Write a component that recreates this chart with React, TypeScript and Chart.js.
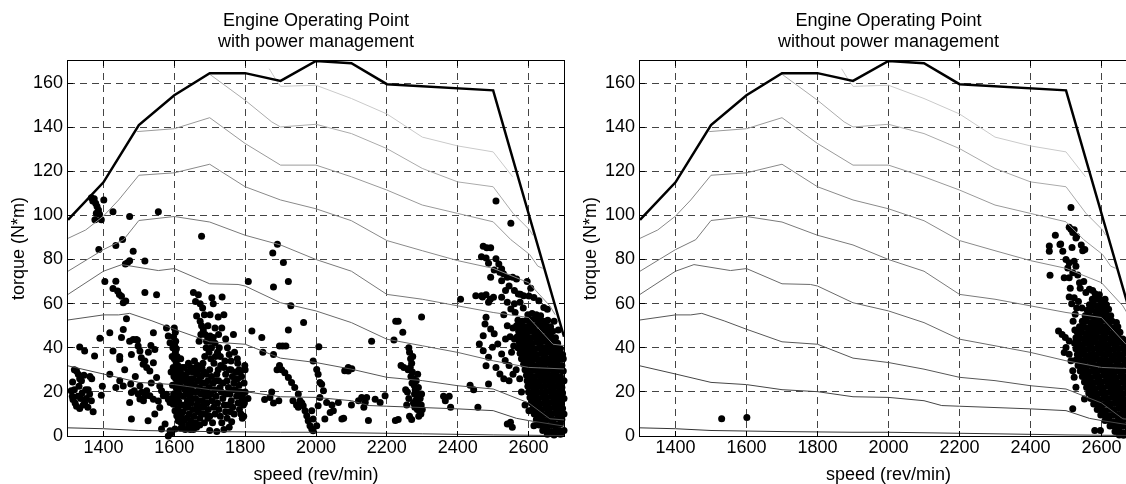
import React, { useEffect, useRef } from "react";
import { Chart, registerables } from "chart.js";

Chart.register(...registerables);

const FONT = "'Liberation Sans', Arial, Helvetica, sans-serif";

const speedTicks = [1400, 1600, 1800, 2000, 2200, 2400, 2600];
const torqueTicks = [0, 20, 40, 60, 80, 100, 120, 140, 160];
const speedRange = [1300, 2700];
const torqueRange = [0, 170];

const titleTop = "Engine Operating Point";
const titleLeft = "with power management";
const titleRight = "without power management";
const xLabel = "speed (rev/min)";
const yLabel = "torque (N*m)";

const maxTorqueSpeed = [1300, 1400, 1500, 1600, 1700, 1800, 1900, 2000, 2100, 2200, 2500, 2700];
const maxTorqueValue = [98, 115, 141, 154.5, 164.5, 164.5, 161, 170, 169, 159.5, 156.7, 45];

const contourASpeed = [1868, 1885, 1900, 2000, 2100, 2200, 2300, 2400, 2500, 2555];
const contourATorque = [166.5, 162, 158.5, 159, 153, 146, 135.5, 131.5, 128.8, 117.5];
const contourBSpeed = [1700, 1800, 1875, 1900, 2000, 2100, 2200, 2300, 2400, 2500, 2556, 2603, 2612];
const contourBTorque = [164, 152.2, 142.4, 140.1, 141.3, 137.1, 130.3, 121.3, 115.2, 113, 101, 93.4, 91];
const contourCSpeed = [1495, 1600, 1700, 1800, 1900, 2000, 2100, 2200, 2300, 2400, 2500, 2550, 2603, 2626, 2640];
const contourCTorque = [138, 139.3, 144.3, 132.6, 122.8, 122.8, 117.5, 111.5, 104.7, 100.9, 97.1, 89, 82.3, 77, 76];
const contourDSpeed = [1300, 1350, 1400, 1443, 1500, 1600, 1700, 1800, 1900, 2000, 2100, 2200, 2300, 2400, 2500, 2600, 2660, 2675];
const contourDTorque = [89.6, 93.4, 99.7, 107, 118.2, 119.3, 123.2, 113, 107, 103, 97.6, 88.6, 84, 79.5, 76, 69.5, 59, 55];
const contourESpeed = [1300, 1400, 1457, 1500, 1600, 1700, 1800, 1900, 2000, 2100, 2200, 2300, 2400, 2500, 2600, 2669, 2700];
const contourETorque = [74.7, 84.5, 89, 97.7, 99.5, 97, 91, 86.6, 80, 74.7, 64.2, 62, 59, 56, 53.7, 41.6, 41];
const contourFSpeed = [1300, 1400, 1452, 1555, 1600, 1700, 1780, 1800, 1900, 2000, 2100, 2200, 2300, 2400, 2500, 2600, 2700];
const contourFTorque = [64.2, 74.7, 77.7, 75, 75.9, 69, 68.7, 68, 60.4, 56.7, 51.4, 43.9, 40.9, 37.9, 34.1, 31.1, 30.4];
const contourGSpeed = [1300, 1400, 1443, 1474, 1537, 1600, 1700, 1800, 1900, 2000, 2100, 2200, 2300, 2400, 2500, 2600, 2660, 2700];
const contourGTorque = [52.6, 54.9, 54.9, 55.6, 52.2, 48.4, 42.7, 41.6, 35.3, 33.3, 30.3, 26.6, 25.1, 22.8, 21.3, 15, 7.8, 7.3];
const contourHSpeed = [1300, 1400, 1500, 1600, 1700, 1800, 1900, 2000, 2100, 2150, 2200, 2400, 2500, 2566, 2600, 2700];
const contourHTorque = [31.8, 28.1, 24.3, 23.3, 21, 20.1, 17.8, 17.5, 16, 13.8, 13.5, 12.3, 11.5, 8, 7, 4.5];
const contourISpeed = [1300, 1400, 1500, 1700, 1900, 2000, 2300, 2500, 2700];
const contourITorque = [3.7, 3.3, 2.5, 2, 1.7, 1.7, 1, 0.5, 0.2];

const contourColors = ["#cacaca", "#ababab", "#9a9a9a", "#8a8a8a", "#7a7a7a", "#6a6a6a", "#575757", "#454545", "#333333"];

const withPmPoints = [
  [1366,108],[1370,106.5],[1374,107.5],[1378,105.5],[1382,104],[1386,102.5],[1389,100.5],[1376,98],[1394,98],[1401,107],[1380,101],
  [1427,101.7],[1474,99.5],[1555,101.7],[1677,90.6],[1387,84.6],[1435,86.4],[1454,89.1],[1484,83.8],[1474,79.5],[1468,78.5],[1462,78],[1517,79.3],
  [1404,70],[1435,70.2],[1427,66.9],[1440,65.7],[1445,64.2],[1451,63.4],[1456,60.4],[1463,61.2],[1517,65],[1550,64],[1465,53.2],[1418,46.8],
  [1390,44.3],[1427,38.5],[1451,44.6],[1456,48.3],[1484,43.8],[1496,43.4],[1503,38.5],[1541,46.8],[1578,49],[1583,45.3],[1588,42.3],[1375,36.3],
  [1333,40.3],[1347,38.5],[1446,34.7],[1479,37],
  [1809,70],[1878,83],[1891,86.9],[1908,78.6],[1922,70],[1880,67.5],[1929,59],[1965,51.4],[1922,48],[1819,47.6],[1847,44.6],[1897,40.8],
  [1906,40.8],[1915,40.8],[1880,37],[1850,38],
  [1309,20.5],[1312,18],[1314,16.5],[1318,21],[1320,15],[1324,13.5],[1328,18],[1331,22.5],[1333,12.5],[1336,17],[1340,19.5],[1343,14],
  [1347,15],[1350,21],[1352,17],[1356,13],[1357,21],[1361,19],[1366,16],[1324,29.5],[1329,28],[1333,26],[1338,25],[1345,27.5],[1362,27],
  [1367,26],[1371,11],[1394,18.5],[1397,22.5],[1313,24.5],[1318,30],
  [1418,28],[1446,36],[1474,43],[1493,43.8],[1498,40.8],[1507,35.5],[1512,32.5],[1517,34],[1522,31],[1531,29.5],[1541,33.2],[1545,39.2],
  [1550,26.5],[1559,22.7],[1564,20.5],[1569,18.2],[1578,18.9],[1583,16.7],[1588,15.2],[1597,14.4],[1602,11.4],[1607,9.2],[1611,6.9],[1574,5.4],
  [1564,3.2],[1526,6.9],[1479,7.7],[1446,25],[1456,22.7],[1474,15.2],[1479,19.7],[1503,22.7],[1522,20.5],[1531,18.2],[1541,16.7],[1555,15.9],
  [1559,12.9],[1545,10],[1588,2.4],[1583,0],[1602,3.2],[1477,23.6],[1487,20.5],[1498,19],[1508,19.8],[1518,18.3],[1503,16.8],[1513,16],
  [1435,22],[1460,30],[1490,27],[1535,24],[1527,38],[1534,41],
  [1600,49],[1603,47],[1598,45],[1604,43],[1601,41],[1606,39.5],[1603,38],[1608,36],[1600,35],[1605,33.5],[1610,32],[1602,30.5],[1607,29],
  [1612,27.5],[1604,26],[1609,24.5],[1614,23],[1606,21.5],[1611,20],[1616,18.5],[1608,17],[1613,15.5],[1618,14],[1610,12.5],[1615,11],
  [1620,9.5],[1612,8],[1617,6.5],[1622,5],[1619,3.5],[1596,40],[1594,36],[1597,31],[1599,27],[1595,23],[1598,19],[1601,15],[1620,26],
  [1623,22],[1626,18],[1629,14],[1625,11],[1628,7],[1631,3],[1591,29],[1593,17],[1616,30],[1618,35],[1622,31],
  [1632,27],[1636,24],[1640,21],[1644,18],[1648,15],[1652,12],[1656,9],[1660,6],[1638,29],[1645,26],[1650,23],[1655,20],[1660,17],[1664,14],
  [1668,11],[1672,8],[1642,10],[1646,7],[1650,5],[1654,3],[1633,13],[1637,16],[1663,28],[1667,25],[1671,22],[1675,19],[1679,16],[1683,13],
  [1687,10],[1670,30],[1676,27],[1680,24],[1684,21],[1688,18],[1692,15],[1696,12],[1700,9],[1690,28],[1695,25],[1699,22],[1703,19],[1707,16],
  [1711,13],[1715,10],[1700,30],[1705,27],[1710,24],[1714,21],[1718,18],[1722,15],[1726,12],[1730,9],[1734,6],[1720,28],[1725,25],[1729,22],
  [1733,20],[1737,17],[1741,14],[1745,11],[1749,8],[1740,31],[1745,28],[1749,25],[1753,22],[1757,19],[1761,16],[1765,13],[1769,10],[1760,30],
  [1764,27],[1768,24],[1772,21],[1776,18],[1780,15],[1784,12],[1788,10],[1792,8],[1796,9],[1774,29],[1779,26],[1783,23],[1787,20],[1791,17],
  [1795,14],[1661,31],[1657,34],[1652,29],[1681,33],[1686,36],[1712,33],[1716,36],[1722,38],[1727,40],[1690,40],[1695,45],[1700,43],
  [1622,28],[1627,25],[1630,21],[1634,19],[1638,13],[1641,24],[1646,21],[1649,17],[1653,26],[1657,23],[1661,12],[1665,20],[1669,16],[1673,27],
  [1676,13],[1680,10],[1684,29],[1688,24],[1692,21],[1696,18],[1629,31],[1640,33],[1647,31],[1658,30],[1666,32],[1678,31],[1635,8],[1640,5],
  [1663,4],[1672,5],[1685,6],[1695,8],[1708,6],[1716,25],[1724,30],[1731,32],[1738,24],[1746,19],[1752,14],[1758,11],[1766,21],[1771,26],
  [1779,33],[1786,29],[1793,19],[1798,15],[1703,35],[1698,38],
  [1654,65],[1668,64],[1660,61],[1673,60],[1706,62.7],[1710,60],[1663,54.4],[1673,52],[1677,50],[1682,48],[1687,46],[1701,45.3],[1710,44.6],
  [1691,43],[1701,55],[1724,54],[1734,49],[1767,46],[1715,49],[1680,58],[1685,55],[1675,46],[1670,43],[1695,50],[1705,40],[1715,42],[1745,44],
  [1750,40],[1755,37],[1760,34],[1770,38],[1778,35],[1783,30],[1790,27],[1797,24],[1800,20],[1799,32],[1735,63],[1740,55],[1725,46],[1730,36],
  [1755,30],[1743,34],[1645,3],[1700,2.5],[1720,2],[1740,3],[1755,4],[1762,6.5],[1590,1],
  [1808,17],[1855,16.5],[1870,17.5],[1875,20],[1880,15],[1895,16],[1890,30],[1897,32],[1903,30],[1912,28.7],[1922,26.5],[1931,24.2],[1940,22],
  [1950,19],[1955,16],[1964,13.7],[1969,11.4],[1974,9.2],[1978,6.9],[1983,4.7],[1988,3.2],[1992,2.4],[1988,11.4],[1992,7.7],[2002,4.7],
  [2006,13.7],[2011,17.4],[2016,23.5],[2021,20.5],[2030,15.2],[2040,10.7],[2025,7.7],[2049,11.4],[1992,34],[2002,30.2],[2006,28],[2011,24.2],
  [1945,14],[1950,13],[1960,15],[1935,16],[1800,30],[1780,20],[2008,40.5],[2081,29.6],[2091,31],
  [2063,15.2],[2091,29.5],[2101,30.5],[2073,7.7],[2078,8],[2120,16],[2129,17.4],[2139,15.2],[2143,17.4],[2148,7],[2167,16.7],[2181,15.2],
  [2195,18.2],[2224,7],[2157,43],[2220,43.5],[2225,52],[2232,52],[2245,47],[2240,32],[2248,31],[2253,21],[2232,7.5],[2135,13],[2100,14],[2045,14],
  [2262,40],[2264,38],[2267,35],[2270,33],[2266,31],[2272,29],[2268,27],[2275,26],[2271,24],[2277,23],[2280,21],[2283,20],[2278,19],[2285,18],
  [2281,16],[2288,15],[2291,13],[2286,12],[2293,11],[2296,10],[2275,15],[2279,13],[2260,30],[2258,20],[2264,9],[2270,7.5],[2289,22],[2294,17],
  [2297,14],[2300,12],[2298,19],[2283,25],[2262,17],[2256,14],[2298,54],[2290,9],[2287,28],[2273,36],
  [2360,18],[2365,16],[2376,18],[2380,13],[2408,62],[2435,23],[2445,21],[2457,13],[2470,63],[2480,64],[2492,62],
  [2472,86],[2482,85.3],[2493,85.3],[2467,81.3],[2480,80.7],[2487,78.3],[2508,80.3],[2516,78],[2524,75.7],[2503,75.3],[2519,74.2],[2529,73.5],
  [2540,72],[2555,72],[2566,71.2],[2493,72],[2524,70.4],[2560,66],[2571,64.4],[2586,63.6],[2524,62.9],[2540,60.6],[2560,59.9],[2576,60.6],
  [2550,57.6],[2501,62.9],[2487,60.6],[2451,63.6],[2467,63.6],[2480,53.8],[2477,50.8],[2493,48.5],[2472,45.5],[2503,46.3],[2461,41.7],
  [2472,38.7],[2487,35.7],[2498,40.2],[2513,41.7],[2524,37.2],[2534,34.2],[2508,31.1],[2480,31.9],[2487,23.6],[2519,28.1],[2545,25.1],
  [2540,5.4],[2508,106.5],[2550,96.5],[2535,66],[2545,68],[2530,55],[2540,50],[2548,45],[2535,44],[2552,38],[2545,32],[2556,28],[2530,26],
  [2598,55],[2610,55.5],[2622,55],[2634,54.5],
  [2570,52.5],[2582,52],[2594,52.5],[2606,52.5],[2618,53],[2630,52.5],[2642,52],[2654,52.5],
  [2566,50],[2578,50],[2590,49.5],[2602,50],[2614,50],[2626,50.5],[2638,50],[2650,50],[2662,49.5],
  [2572,47.5],[2584,47.5],[2596,47],[2608,47.5],[2620,47.5],[2632,47.5],[2644,48],[2656,47.5],[2668,47.5],
  [2568,45],[2580,45],[2592,45],[2604,44.5],[2616,45],[2628,45],[2640,45],[2652,45.5],[2664,45],[2676,44.5],
  [2574,42.5],[2586,42.5],[2598,42.5],[2610,42],[2622,42.5],[2634,42.5],[2646,43],[2658,42.5],[2670,42.5],[2682,42],
  [2570,40],[2582,40],[2594,40],[2606,40],[2618,39.5],[2630,40],[2642,40],[2654,40.5],[2666,40],[2678,40],[2690,39.5],
  [2576,37.5],[2588,37.5],[2600,37.5],[2612,37.5],[2624,37],[2636,37.5],[2648,37.5],[2660,38],[2672,37.5],[2684,37.5],[2696,37],
  [2580,35],[2592,35],[2604,35],[2616,35],[2628,34.5],[2640,35],[2652,35],[2664,35.5],[2676,35],[2688,35],[2698,35],
  [2586,32.5],[2598,32.5],[2610,32.5],[2622,32],[2634,32.5],[2646,32.5],[2658,33],[2670,32.5],[2682,32.5],[2694,32],
  [2590,30],[2602,30],[2614,30],[2626,29.5],[2638,30],[2650,30],[2662,30.5],[2674,30],[2686,30],[2698,29.5],
  [2594,27.5],[2606,27.5],[2618,27],[2630,27.5],[2642,27.5],[2654,28],[2666,27.5],[2678,27.5],[2690,27],
  [2596,25],[2608,25],[2620,24.5],[2632,25],[2644,25],[2656,25.5],[2668,25],[2680,25],[2692,24.5],[2700,25],
  [2598,22.5],[2610,22.5],[2622,22],[2634,22.5],[2646,22.5],[2658,23],[2670,22.5],[2682,22.5],[2694,22],
  [2600,20],[2612,20],[2624,19.5],[2636,20],[2648,20],[2660,20.5],[2672,20],[2684,20],[2696,19.5],
  [2604,17.5],[2616,17.5],[2628,17],[2640,17.5],[2652,17.5],[2664,18],[2676,17.5],[2688,17.5],[2700,17],
  [2608,15],[2620,15],[2632,14.5],[2644,15],[2656,15],[2668,15.5],[2680,15],[2692,15],
  [2612,12.5],[2624,12.5],[2636,12],[2648,12.5],[2660,12.5],[2672,13],[2684,12.5],[2696,12.5],
  [2616,10],[2628,10],[2640,9.5],[2652,10],[2664,10],[2676,10.5],[2688,10],[2700,10],
  [2622,7.5],[2634,7.5],[2646,7],[2658,7.5],[2670,7.5],[2682,8],[2694,7.5],
  [2630,5],[2642,5],[2654,4.5],[2666,5],[2678,5],[2690,5.5],
  [2640,2.5],[2652,2.5],[2664,2],[2676,2.5],[2688,2.5],[2700,2.5],
  [2653,0.8],[2672,0.5],[2690,0.8],
  [2549,6.2],[2554,4],[2601,11.4],[2615,4.7],[2558,40.8],[2577,64.3],[2601,63.5],[2615,62.8],[2629,61.3],[2643,58.3],[2653,57.5],[2596,70],
  [2606,67],[2585,58],[2562,56],[2556,49],[2560,44],[2565,30],[2575,26],[2580,20],[2590,14],[2672,52],[2684,48]
];

const withoutPmPoints = [
  [1530,7.8],[1601,8.4],
  [2514,103.6],[2509,94.6],[2514,93.7],[2523,93.5],[2519,92.3],[2530,90.4],[2470,91],[2485,87],[2453,86.1],[2517,85.5],[2543,86.6],[2553,84.6],
  [2453,83.8],[2483,86.8],[2491,83.8],[2528,89.8],[2547,84],[2500,80],[2509,78.5],[2523,79.2],[2528,77],[2505,76.2],[2455,72.9],[2495,71.7],
  [2509,71.7],[2519,74],[2538,69.5],[2566,66.5],[2556,65],[2575,66],[2509,63],[2523,62.7],[2516,60],[2530,58],[2526,55.2],[2547,49.2],
  [2479,47.6],[2489,46],[2498,44.6],[2509,43.1],[2500,40.1],[2495,37.9],[2509,37.1],[2514,34.1],[2519,29.6],[2523,26.6],[2528,22.1],
  [2519,12.3],[2552,16.8],[2581,2.5],[2597,2.5],[2535,61],[2545,58],[2540,67],[2550,70],[2533,73],[2512,67],[2520,52],[2525,48],
  [2582,64.5],[2594,64],
  [2574,62],[2586,62],[2598,61.5],[2610,62],
  [2566,59.5],[2578,59.5],[2590,59],[2602,59.5],[2614,59.5],
  [2560,57],[2572,57],[2584,56.5],[2596,57],[2608,57],[2620,57.5],
  [2554,54.5],[2566,54.5],[2578,54],[2590,54.5],[2602,54.5],[2614,55],[2626,54.5],
  [2546,52],[2558,52],[2570,51.5],[2582,52],[2594,52],[2606,52.5],[2618,52],[2630,52],[2642,51.5],
  [2538,49.5],[2550,49.5],[2562,49],[2574,49.5],[2586,49.5],[2598,50],[2610,49.5],[2622,49.5],[2634,49],[2646,49.5],
  [2532,47],[2544,47],[2556,46.5],[2568,47],[2580,47],[2592,47.5],[2604,47],[2616,47],[2628,46.5],[2640,47],[2652,47],
  [2528,44.5],[2540,44.5],[2552,44],[2564,44.5],[2576,44.5],[2588,45],[2600,44.5],[2612,44.5],[2624,44],[2636,44.5],[2648,44.5],[2660,44],
  [2524,42],[2536,42],[2548,41.5],[2560,42],[2572,42],[2584,42.5],[2596,42],[2608,42],[2620,41.5],[2632,42],[2644,42],[2656,42.5],[2668,42],
  [2528,39.5],[2540,39.5],[2552,39],[2564,39.5],[2576,39.5],[2588,40],[2600,39.5],[2612,39.5],[2624,39],[2636,39.5],[2648,39.5],[2660,40],[2672,39.5],
  [2532,37],[2544,37],[2556,36.5],[2568,37],[2580,37],[2592,37.5],[2604,37],[2616,37],[2628,36.5],[2640,37],[2652,37],[2664,37.5],[2676,37],
  [2528,34.5],[2540,34.5],[2552,34],[2564,34.5],[2576,34.5],[2588,35],[2600,34.5],[2612,34.5],[2624,34],[2636,34.5],[2648,34.5],[2660,35],[2672,34.5],
  [2534,32],[2546,32],[2558,31.5],[2570,32],[2582,32],[2594,32.5],[2606,32],[2618,32],[2630,31.5],[2642,32],[2654,32],[2666,32.5],[2678,32],
  [2540,29.5],[2552,29.5],[2564,29],[2576,29.5],[2588,29.5],[2600,30],[2612,29.5],[2624,29.5],[2636,29],[2648,29.5],[2660,29.5],[2672,30],
  [2546,27],[2558,27],[2570,26.5],[2582,27],[2594,27],[2606,27.5],[2618,27],[2630,27],[2642,26.5],[2654,27],[2666,27],[2678,27.5],
  [2552,24.5],[2564,24.5],[2576,24],[2588,24.5],[2600,24.5],[2612,25],[2624,24.5],[2636,24.5],[2648,24],[2660,24.5],[2672,24.5],
  [2558,22],[2570,22],[2582,21.5],[2594,22],[2606,22],[2618,22.5],[2630,22],[2642,22],[2654,21.5],[2666,22],[2678,22],
  [2564,19.5],[2576,19.5],[2588,19],[2600,19.5],[2612,19.5],[2624,20],[2636,19.5],[2648,19.5],[2660,19],[2672,19.5],
  [2570,17],[2582,17],[2594,16.5],[2606,17],[2618,17],[2630,17.5],[2642,17],[2654,17],[2666,16.5],[2678,17],
  [2578,14.5],[2590,14.5],[2602,14],[2614,14.5],[2626,14.5],[2638,15],[2650,14.5],[2662,14.5],[2674,14],
  [2588,12],[2600,12],[2612,11.5],[2624,12],[2636,12],[2648,12.5],[2660,12],[2672,12],
  [2598,9.5],[2610,9.5],[2622,9],[2634,9.5],[2646,9.5],[2658,10],[2670,9.5],
  [2610,7],[2622,7],[2634,6.5],[2646,7],[2658,7],[2670,7.5],
  [2624,4.5],[2636,4.5],[2648,4],[2660,4.5],[2672,4.5],
  [2638,2],[2650,2],[2662,1.5],[2674,2],
  [2650,0.5],[2662,0.3],[2676,0.5]
];

const contourSets = [
  [contourASpeed, contourATorque],
  [contourBSpeed, contourBTorque],
  [contourCSpeed, contourCTorque],
  [contourDSpeed, contourDTorque],
  [contourESpeed, contourETorque],
  [contourFSpeed, contourFTorque],
  [contourGSpeed, contourGTorque],
  [contourHSpeed, contourHTorque],
  [contourISpeed, contourITorque],
];

const toXY = (xs: number[], ys: number[]) => xs.map((x, i) => ({ x, y: ys[i] }));

const framePlugin = {
  id: "matlabFrame",
  afterDraw(chart: any) {
    const { ctx, chartArea: a, scales } = chart;
    ctx.save();
    ctx.setLineDash([]);
    ctx.strokeStyle = "#000";
    ctx.lineWidth = 1;
    ctx.strokeRect(a.left - 0.5, a.top - 0.5, a.right - a.left + 1, a.bottom - a.top + 1);
    ctx.beginPath();
    const tl = 5;
    for (const v of speedTicks) {
      const px = Math.round(scales.x.getPixelForValue(v) - 0.5) + 0.5;
      ctx.moveTo(px, a.bottom);
      ctx.lineTo(px, a.bottom - tl);
      ctx.moveTo(px, a.top);
      ctx.lineTo(px, a.top + tl);
    }
    for (const v of torqueTicks) {
      const py = Math.round(scales.y.getPixelForValue(v) - 0.5) + 0.5;
      ctx.moveTo(a.left, py);
      ctx.lineTo(a.left + tl, py);
      ctx.moveTo(a.right, py);
      ctx.lineTo(a.right - tl, py);
    }
    ctx.stroke();
    ctx.restore();
  },
};

function makeConfig(subtitle: string, points: number[][], geom: { yAxisWidth: number; padRight: number; yTitlePad: number }) {
  const datasets: any[] = [];
  datasets.push({
    label: "max torque",
    data: toXY(maxTorqueSpeed, maxTorqueValue),
    showLine: true,
    borderColor: "#000",
    borderWidth: 2.5,
    pointRadius: 0,
    order: 0,
  });
  contourSets.forEach(([xs, ys], i) => {
    datasets.push({
      label: "contour " + i,
      data: toXY(xs, ys),
      showLine: true,
      borderColor: contourColors[i],
      borderWidth: 1,
      pointRadius: 0,
      order: 1,
    });
  });
  datasets.push({
    label: "operating points",
    data: points.map(([x, y]) => ({ x, y })),
    showLine: false,
    pointRadius: 3.5,
    pointBackgroundColor: "#000",
    pointBorderWidth: 0,
    pointBorderColor: "#000",
    clip: false,
    order: 2,
  });

  const tickFont = { family: FONT, size: 18, lineHeight: 1 };
  return {
    type: "scatter",
    data: { datasets },
    plugins: [framePlugin],
    options: {
      animation: false,
      responsive: false,
      events: [],
      layout: { padding: { left: 0, right: geom.padRight, top: 0, bottom: 0 } },
      plugins: {
        legend: { display: false },
        tooltip: { enabled: false },
        title: {
          display: true,
          text: [titleTop, subtitle],
          color: "#000",
          fullSize: false,
          font: { family: FONT, size: 18, weight: "normal", lineHeight: 21 / 18 },
          padding: { top: 10.5, bottom: 8.5 },
        },
      },
      scales: {
        x: {
          type: "linear",
          min: speedRange[0],
          max: speedRange[1],
          afterBuildTicks: (s: any) => {
            s.ticks = speedTicks.map((v) => ({ value: v }));
          },
          afterFit: (s: any) => {
            s.height = 48;
          },
          ticks: {
            autoSkip: false,
            maxRotation: 0,
            padding: 3.5,
            color: "#000",
            font: tickFont,
            callback: (v: any) => String(v),
          },
          grid: { color: "#444", lineWidth: 1, drawTicks: false },
          border: { display: false, dash: [7, 5] },
          title: {
            display: true,
            text: xLabel,
            color: "#000",
            font: { family: FONT, size: 18, lineHeight: 1 },
            padding: { top: 0, bottom: 0 },
          },
        },
        y: {
          type: "linear",
          min: torqueRange[0],
          max: torqueRange[1],
          afterBuildTicks: (s: any) => {
            s.ticks = torqueTicks.map((v) => ({ value: v }));
          },
          afterFit: (s: any) => {
            s.width = geom.yAxisWidth;
          },
          ticks: {
            autoSkip: false,
            padding: 5,
            color: "#000",
            font: tickFont,
            callback: (v: any) => String(v),
          },
          grid: { color: "#444", lineWidth: 1, drawTicks: false },
          border: { display: false, dash: [7, 5] },
          title: {
            display: true,
            text: yLabel,
            color: "#000",
            font: { family: FONT, size: 18, lineHeight: 1 },
            padding: { top: geom.yTitlePad, bottom: 0 },
          },
        },
      },
    },
  } as any;
}

export default function App() {
  const leftRef = useRef<HTMLCanvasElement>(null);
  const rightRef = useRef<HTMLCanvasElement>(null);

  useEffect(() => {
    const c1 = new Chart(leftRef.current as HTMLCanvasElement, makeConfig(titleLeft, withPmPoints, { yAxisWidth: 68, padRight: 6, yTitlePad: 10.5 }));
    const c2 = new Chart(rightRef.current as HTMLCanvasElement, makeConfig(titleRight, withoutPmPoints, { yAxisWidth: 70, padRight: 13, yTitlePad: 12 }));
    return () => {
      c1.destroy();
      c2.destroy();
    };
  }, []);

  return (
    <div style={{ position: "fixed", left: 0, top: 0, width: 1126, height: 484, overflow: "hidden", background: "#fff" }}>
      <canvas ref={leftRef} width={570} height={484} style={{ position: "absolute", left: 0, top: 0 }} />
      <canvas ref={rightRef} width={580} height={484} style={{ position: "absolute", left: 570, top: 0 }} />
    </div>
  );
}
